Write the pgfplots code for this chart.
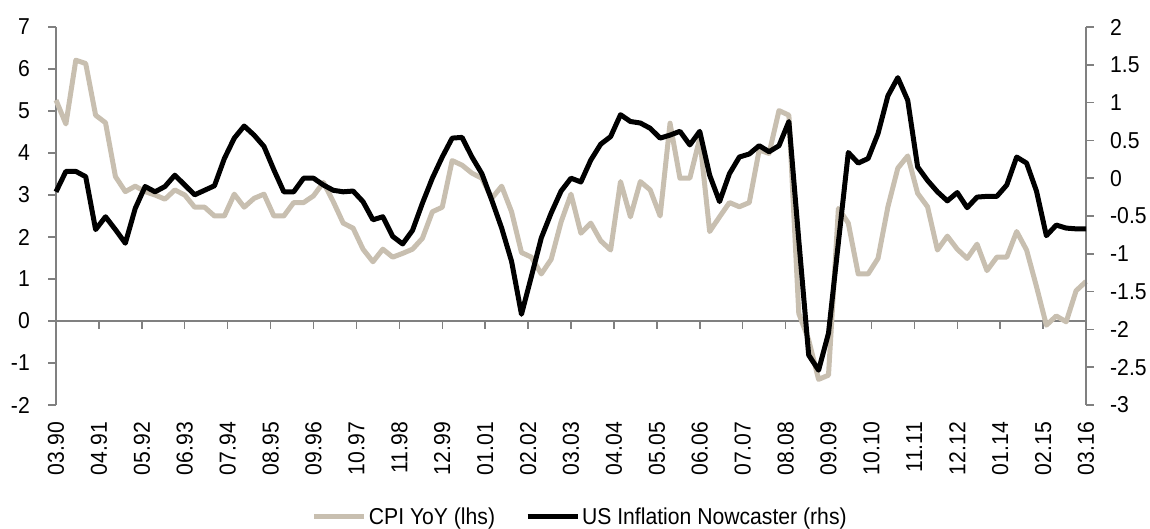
\documentclass[border=0pt]{standalone}
\usepackage{fontspec}
\setmainfont{Liberation Sans}[FakeStretch=0.92]
\usepackage{pgfplots}
\usepackage{pgfplotstable}
\pgfplotsset{compat=1.18}
\definecolor{cpi}{RGB}{200,191,176}
\definecolor{axgray}{RGB}{128,128,128}

\pgfplotstableread{
m v
0 5.26
3 4.69
6 6.21
9 6.13
12 4.90
15 4.72
18 3.44
21 3.08
24 3.21
27 3.08
30 3.00
33 2.90
36 3.12
39 3.00
42 2.71
45 2.71
48 2.50
51 2.50
54 3.02
57 2.71
60 2.92
63 3.02
66 2.50
69 2.50
72 2.82
75 2.82
78 2.98
81 3.30
84 2.84
87 2.33
90 2.21
93 1.71
96 1.41
99 1.71
102 1.52
105 1.61
108 1.71
111 1.97
114 2.60
117 2.71
120 3.82
123 3.71
126 3.52
129 3.40
132 2.92
135 3.21
138 2.60
141 1.63
144 1.52
147 1.12
150 1.47
153 2.36
156 3.02
159 2.09
162 2.33
165 1.91
168 1.69
171 3.32
174 2.48
177 3.32
180 3.12
183 2.50
186 4.71
189 3.40
192 3.40
195 4.35
198 2.13
201 2.48
204 2.82
207 2.72
210 2.82
213 4.07
216 3.99
219 5.01
222 4.90
225 0.18
228 -0.45
231 -1.39
234 -1.29
237 2.68
240 2.33
243 1.12
246 1.12
249 1.49
252 2.72
255 3.64
258 3.93
261 3.04
264 2.72
267 1.69
270 2.02
273 1.71
276 1.49
279 1.83
282 1.20
285 1.52
288 1.52
291 2.13
294 1.69
297 0.82
300 -0.10
303 0.12
306 -0.02
309 0.72
312 0.94
}\cpidata

\pgfplotstableread{
m v
0 -0.18
3 0.09
6 0.09
9 0.02
12 -0.68
15 -0.51
18 -0.68
21 -0.86
24 -0.40
27 -0.11
30 -0.18
33 -0.11
36 0.04
39 -0.09
42 -0.22
45 -0.16
48 -0.10
51 0.26
54 0.53
57 0.69
60 0.57
63 0.42
66 0.11
69 -0.18
72 -0.18
75 0.00
78 0.00
81 -0.09
84 -0.16
87 -0.18
90 -0.17
93 -0.31
96 -0.55
99 -0.51
102 -0.77
105 -0.87
108 -0.69
111 -0.33
114 0.00
117 0.28
120 0.53
123 0.54
126 0.28
129 0.06
132 -0.29
135 -0.66
138 -1.10
141 -1.80
144 -1.30
147 -0.79
150 -0.46
153 -0.17
156 0.00
159 -0.05
162 0.24
165 0.45
168 0.55
171 0.84
174 0.75
177 0.73
180 0.66
183 0.53
186 0.57
189 0.62
192 0.44
195 0.62
198 0.04
201 -0.31
204 0.06
207 0.28
210 0.32
213 0.43
216 0.35
219 0.43
222 0.75
225 -0.82
228 -2.34
231 -2.54
234 -2.05
237 -0.85
240 0.34
243 0.20
246 0.26
249 0.59
252 1.09
255 1.33
258 1.03
261 0.15
264 -0.03
267 -0.18
270 -0.30
273 -0.19
276 -0.39
279 -0.25
282 -0.24
285 -0.24
288 -0.09
291 0.28
294 0.20
297 -0.17
300 -0.76
303 -0.62
306 -0.66
309 -0.67
312 -0.67
}\nowdata

\pgfplotsset{
  every tick label/.append style={font=\fontsize{23}{23}\selectfont, text=black},
  /pgf/number format/assume math mode=true,
}

\begin{document}
\begin{tikzpicture}
\useasboundingbox (-56pt,-124pt) rectangle (1094pt,405pt);
\begin{axis}[
  at={(0pt,0pt)}, anchor=south west,
  scale only axis, width=1030pt, height=378pt,
  xmin=0, xmax=312, ymin=-2, ymax=7,
  axis y line*=left, axis x line*=bottom,
  x axis line style={draw=none},
  y axis line style={draw=none},
  ytick={-2,-1,0,1,2,3,4,5,6,7},
  ytick style={draw=none},
  tick align=outside, major tick length=8pt,
  xtick={0,13,...,312},
  xticklabels={03.90,04.91,05.92,06.93,07.94,08.95,09.96,10.97,11.98,12.99,01.01,02.02,03.03,04.04,05.05,06.06,07.07,08.08,09.09,10.10,11.11,12.12,01.14,02.15,03.16},
  xtick style={draw=none},
  xticklabel style={rotate=90, anchor=east, inner sep=0pt, xshift=-9pt},
  yticklabel style={anchor=east, inner sep=0pt, xshift=-18pt},
  clip=false,
]
\draw[axgray, line width=2pt] (axis cs:0,-2) -- (axis cs:0,7);
\pgfplotsinvokeforeach{-2,-1,0,1,2,3,4,5,6,7}{\draw[axgray, line width=1.5pt] (axis cs:0,#1) -- ++(-8pt,0pt);}
\draw[axgray, line width=2pt] (axis cs:0,0) -- (axis cs:312,0);
\pgfplotsinvokeforeach{0,13,...,312}{\draw[axgray, line width=1.5pt] (axis cs:#1,0) -- ++(0pt,-8pt);}
\addplot[cpi, line width=5pt, line join=round, no marks] table[x=m, y=v] {\cpidata};
\end{axis}
\begin{axis}[
  at={(0pt,0pt)}, anchor=south west,
  scale only axis, width=1030pt, height=378pt,
  xmin=0, xmax=312, ymin=-3, ymax=2,
  axis y line*=right, axis x line=none,
  y axis line style={draw=none},
  ytick={-3,-2.5,-2,-1.5,-1,-0.5,0,0.5,1,1.5,2},
  ytick style={draw=none},
  tick align=outside, major tick length=8pt,
  yticklabel style={anchor=west, inner sep=0pt, xshift=16pt},
  clip=false,
  legend style={at={(0.509,-0.296)}, anchor=center, draw=none, fill=none,
    font=\fontsize{23}{23}\selectfont, legend columns=-1,
    nodes={inner sep=2pt},
    /tikz/every even column/.append style={column sep=28pt}},
  legend image code/.code={\draw[#1, line width=5pt] (0pt,0pt) -- (50pt,0pt);},
]
\draw[axgray, line width=2pt] (axis cs:312,-3) -- (axis cs:312,2);
\pgfplotsinvokeforeach{-3,-2.5,-2,-1.5,-1,-0.5,0,0.5,1,1.5,2}{\draw[axgray, line width=1.5pt] (axis cs:312,#1) -- ++(8pt,0pt);}
\addlegendimage{cpi}
\addlegendentry{CPI YoY (lhs)}
\addplot[black, line width=5pt, line join=round, no marks] table[x=m, y=v] {\nowdata};
\addlegendentry{US Inflation Nowcaster (rhs)}
\end{axis}
\end{tikzpicture}
\end{document}
